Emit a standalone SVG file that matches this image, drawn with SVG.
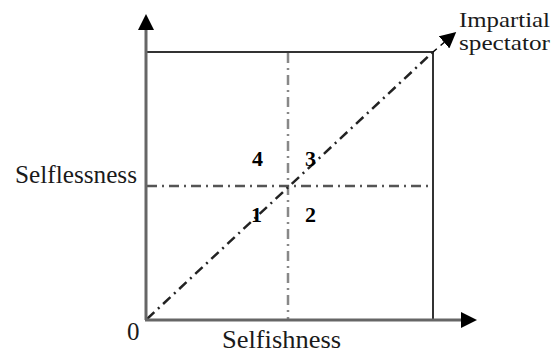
<svg xmlns="http://www.w3.org/2000/svg" width="551" height="354" viewBox="0 0 551 354">
<style>
.lbl{font-family:"Liberation Serif","Times New Roman",serif;font-size:25px;fill:#1a1a1a}
.sm{font-size:22px}
.num{font-family:"Liberation Serif","Times New Roman",serif;font-size:22px;font-weight:bold;fill:#000}
.axis{stroke:#666;stroke-width:3;fill:none}
.box{stroke:#333;stroke-width:2;fill:none}
.dd{stroke-width:2.5;fill:none;stroke-dasharray:10 5 2 5}
</style>
<defs>
<marker id="ah" viewBox="0 0 10 10" refX="9" refY="5" markerWidth="16" markerHeight="16" markerUnits="userSpaceOnUse" orient="auto">
<path d="M0,0 L10,5 L0,10 Z" fill="#000"/>
</marker>
</defs>
<rect width="551" height="354" fill="#fff"/>
<g id="connectors">
<line class="box" x1="146" y1="52" x2="433" y2="52"/>
<line class="box" x1="433" y1="52" x2="433" y2="320"/>
<line class="dd" stroke="#888" x1="288" y1="53" x2="288" y2="319"/>
<line class="dd" stroke="#555" x1="147" y1="186" x2="432" y2="186"/>
<line class="dd" stroke="#222" stroke-width="2" x1="147" y1="319" x2="433" y2="52"/>
<line stroke="#000" stroke-width="1.5" x1="433" y1="52" x2="455" y2="33" stroke-dasharray="5 5" marker-end="url(#ah)"/>
<line class="axis" x1="146" y1="320" x2="146" y2="30"/>
<path d="M138,30 L146,14 L154,30 Z" fill="#000"/>
<line class="axis" x1="145" y1="320" x2="461" y2="320"/>
<path d="M461,312 L477,320 L461,328 Z" fill="#000"/>
</g>
<g id="origin"><text class="lbl" x="127" y="340">0</text></g>
<g id="selflessness"><text class="lbl" x="15" y="183" textLength="122" lengthAdjust="spacingAndGlyphs">Selflessness</text></g>
<g id="selfishness"><text class="lbl" x="222" y="348" textLength="119" lengthAdjust="spacingAndGlyphs">Selfishness</text></g>
<g id="impartial"><text class="lbl sm" x="459" y="27" textLength="91" lengthAdjust="spacingAndGlyphs">Impartial</text><text class="lbl sm" x="459" y="50" textLength="91" lengthAdjust="spacingAndGlyphs">spectator</text></g>
<g id="q4"><text class="num" x="252" y="166">4</text></g>
<g id="q3"><text class="num" x="305" y="166">3</text></g>
<g id="q1"><text class="num" x="251" y="222">1</text></g>
<g id="q2"><text class="num" x="305" y="222">2</text></g>
</svg>
